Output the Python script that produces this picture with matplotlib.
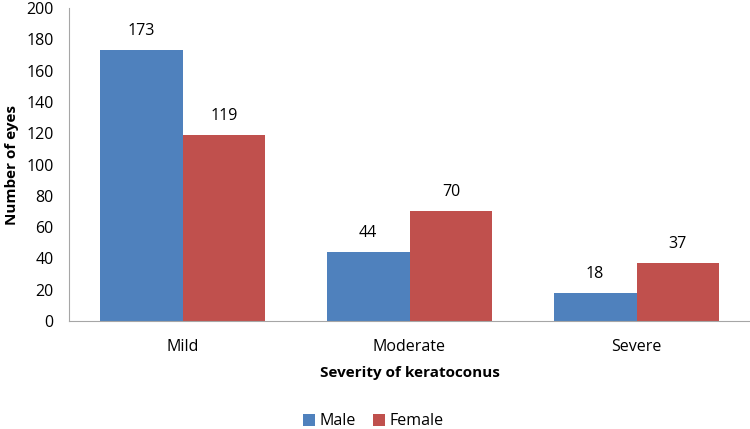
import numpy as np
import matplotlib.pyplot as plt

plt.rcParams['font.family'] = ['Open Sans', 'DejaVu Sans']

categories = ['Mild', 'Moderate', 'Severe']
male = [173, 44, 18]
female = [119, 70, 37]
series_names = ['Male', 'Female']

fig = plt.figure(figsize=(7.5, 4.29), dpi=100)
ax = fig.add_axes([0.092, 0.2517, 0.908, 0.7297])

x = np.arange(len(categories))
w = 0.365
b1 = ax.bar(x - w / 2, male, w, color='#4F81BD', label=series_names[0])
b2 = ax.bar(x + w / 2, female, w, color='#C0504D', label=series_names[1])

for bars in (b1, b2):
    for b in bars:
        ax.annotate(str(int(b.get_height())), (b.get_x() + b.get_width() / 2, b.get_height()),
                    xytext=(0, 8), textcoords='offset points', ha='center', va='bottom', fontsize=11.5)

ax.set_xlim(-0.5, 2.5)
ax.set_ylim(0, 200)
ax.set_yticks(range(0, 201, 20))
ax.set_xticks(x)
ax.set_xticklabels(categories)
ax.tick_params(length=0, labelsize=11.5)
ax.tick_params(axis='x', pad=13)
ax.tick_params(axis='y', pad=11)

for s in ['top', 'right']:
    ax.spines[s].set_visible(False)
for s in ['left', 'bottom']:
    ax.spines[s].set_color('#A6A6A6')

ax.set_xlabel('Severity of keratoconus', fontsize=11, fontweight='bold', labelpad=8)
ax.set_ylabel('Number of eyes', fontsize=11, fontweight='bold', labelpad=5)

fig.legend(loc='center', bbox_to_anchor=(0.498, 0.018), ncol=2, frameon=False, fontsize=11.5,
           handlelength=0.75, handleheight=0.75, handletextpad=0.25, columnspacing=1.1)

fig.savefig('out.png', dpi=100)
